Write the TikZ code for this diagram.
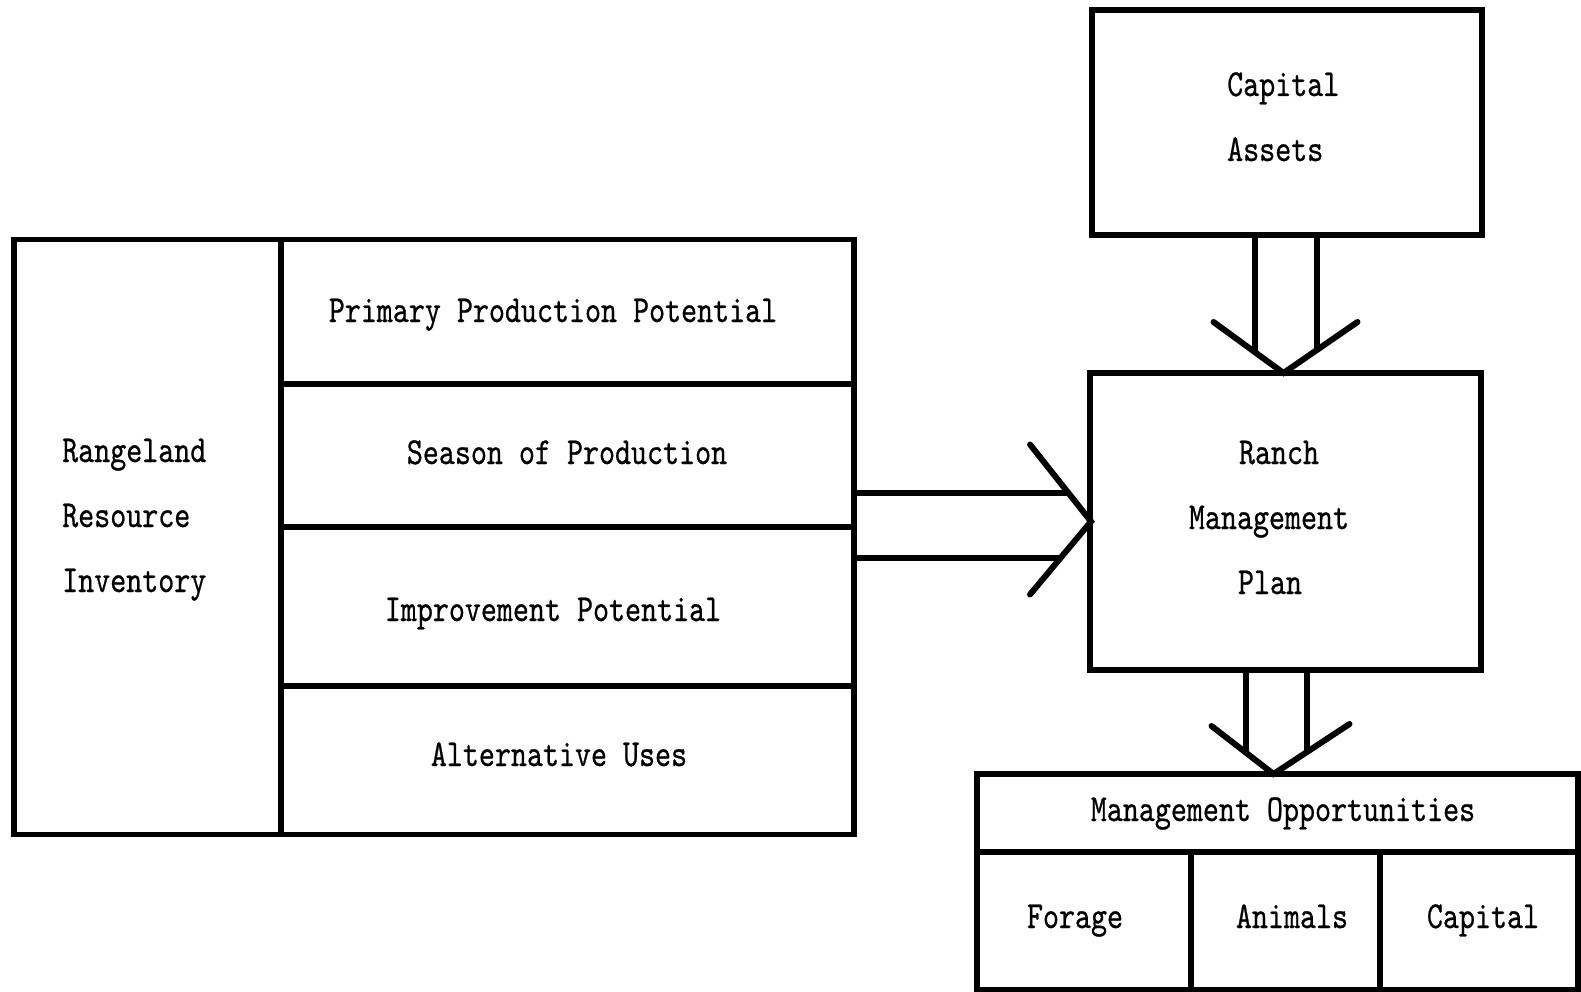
\documentclass[tikz,border=0pt]{standalone}
\usepackage{fontspec}
\usepackage{graphicx}
\newfontfamily\tw{lmmono10-regular}[Extension=.otf, FakeBold=0.7]
\usetikzlibrary{calc}
\newcommand{\tx}[1]{\scalebox{1}[1.25]{#1}}
\begin{document}
\begin{tikzpicture}[x=1pt,y=-1pt,
  box/.style={draw, line width=5.5pt, rectangle, inner sep=0pt, outer sep=0pt},
  ln/.style={line width=5.5pt},
  chev/.style={line width=6pt, line cap=round, line join=miter},
  lbl/.style={font=\tw\fontsize{30.5}{36}\selectfont, inner sep=0pt}]
\fill[white] (0,0) rectangle (1581,992);
\useasboundingbox (0,0) rectangle (1581,992);
% boxes
\node[box, minimum width=840pt, minimum height=595pt] (rri) at (434,537) {};
\node[box, minimum width=390pt, minimum height=225pt] (cap) at (1287,122.5) {};
\node[box, minimum width=391pt, minimum height=297pt] (ranch) at (1285.5,521.5) {};
\node[box, minimum width=601pt, minimum height=216pt] (mo) at (1277.5,882) {};
% left box dividers
\coordinate (dv) at (281,0);
\draw[ln] (dv |- rri.north) -- (dv |- rri.south);
\draw[ln] (281,384) -- (rri.east |- 0,384);
\draw[ln] (281,527) -- (rri.east |- 0,527);
\draw[ln] (281,686) -- (rri.east |- 0,686);
% management opportunities dividers
\draw[ln] (mo.west |- 0,852) -- (mo.east |- 0,852);
\draw[ln] (1191,852) -- (1191,0 |- mo.south);
\draw[ln] (1380,852) -- (1380,0 |- mo.south);
% texts
\node[lbl, anchor=base west] (rr1) at (62,462) {\tx{Rangeland}};
\node[lbl, anchor=base west] (rr2) at (62,527) {\tx{Resource}};
\node[lbl, anchor=base west] (rr3) at (62,592) {\tx{Inventory}};
\node[lbl, anchor=base] (ppp) at (553,322) {\tx{Primary Production Potential}};
\node[lbl, anchor=base] (sop) at (567,464) {\tx{Season of Production}};
\node[lbl, anchor=base] (imp) at (553,621) {\tx{Improvement Potential}};
\node[lbl, anchor=base] (alt) at (559,766) {\tx{Alternative Uses}};
\node[lbl, anchor=base west] (ca1) at (1227,96) {\tx{Capital}};
\node[lbl, anchor=base west] (ca2) at (1227,161) {\tx{Assets}};
\node[lbl, anchor=base] (rm1) at (1279,464) {\tx{Ranch}};
\node[lbl, anchor=base] (rm2) at (1269,529) {\tx{Management}};
\node[lbl, anchor=base] (rm3) at (1270,594) {\tx{Plan}};
\node[lbl, anchor=base] (mot) at (1283,821) {\tx{Management Opportunities}};
\node[lbl, anchor=base] (fo) at (1075,928) {\tx{Forage}};
\node[lbl, anchor=base] (an) at (1292,928) {\tx{Animals}};
\node[lbl, anchor=base] (cp) at (1483,928) {\tx{Capital}};
% arrow capital -> ranch
\coordinate (t1) at ($(ranch.north)+(-2,0)$);
\draw[ln] ($(cap.south)+(-32,0)$) -- ++(0,116);
\draw[ln] ($(cap.south)+(30,0)$) -- ++(0,113);
\draw[chev] ($(t1)+(-70,-51)$) -- (t1) -- ($(t1)+(74,-51)$);
% arrow inventory -> ranch
\coordinate (t2) at ($(ranch.west)+(1,0)$);
\draw[ln] ($(rri.east)+(0,-44)$) -- ++(214,0);
\draw[ln] ($(rri.east)+(0,21)$) -- ++(207,0);
\draw[chev] ($(t2)+(-61,-77)$) -- (t2) -- ($(t2)+(-61,73)$);
% arrow ranch -> management opportunities
\coordinate (t3) at ($(mo.north)+(-4,0)$);
\draw[ln] ($(ranch.south)+(-39.5,0)$) -- ++(0,83);
\draw[ln] ($(ranch.south)+(21.5,0)$) -- ++(0,82);
\draw[chev] ($(t3)+(-62,-48)$) -- (t3) -- ($(t3)+(76,-50)$);
\end{tikzpicture}
\end{document}
